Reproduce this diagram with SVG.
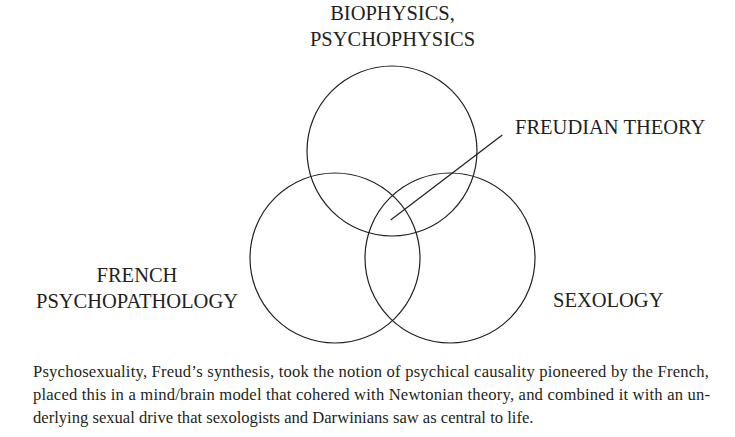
<svg xmlns="http://www.w3.org/2000/svg" width="735" height="437" viewBox="0 0 735 437">
<style>
.c{fill:none;stroke:#231f20;stroke-width:1.2}
.l{font-family:"Liberation Serif","Times New Roman",serif;font-size:20.5px;fill:#231f20}
.cap{font-family:"Liberation Serif","Times New Roman",serif;font-size:16.6px;fill:#231f20}
</style>
<rect width="735" height="437" fill="#fff"/>
<g id="biophysics">
<circle class="c" cx="392" cy="151" r="85"/>
<text class="l" x="392.5" y="20" text-anchor="middle">BIOPHYSICS,</text>
<text class="l" x="392.5" y="46" text-anchor="middle">PSYCHOPHYSICS</text>
</g>
<g id="french">
<circle class="c" cx="335" cy="258" r="85"/>
<text class="l" x="137" y="282" text-anchor="middle">FRENCH</text>
<text class="l" x="137" y="308" text-anchor="middle">PSYCHOPATHOLOGY</text>
</g>
<g id="sexology">
<circle class="c" cx="450" cy="258" r="85"/>
<text class="l" x="553" y="307">SEXOLOGY</text>
</g>
<g id="freudian">
<text class="l" x="515" y="134">FREUDIAN THEORY</text>
</g>
<g id="connectors">
<line x1="390.7" y1="220" x2="502.3" y2="135" stroke="#231f20" stroke-width="1.2"/>
</g>
<g id="caption">
<text class="cap" x="33" y="376.7" textLength="676" lengthAdjust="spacing">Psychosexuality, Freud’s synthesis, took the notion of psychical causality pioneered by the French,</text>
<text class="cap" x="33" y="399.5" textLength="677" lengthAdjust="spacing">placed this in a mind/brain model that cohered with Newtonian theory, and combined it with an un-</text>
<text class="cap" x="33" y="422.5">derlying sexual drive that sexologists and Darwinians saw as central to life.</text>
</g>
</svg>
